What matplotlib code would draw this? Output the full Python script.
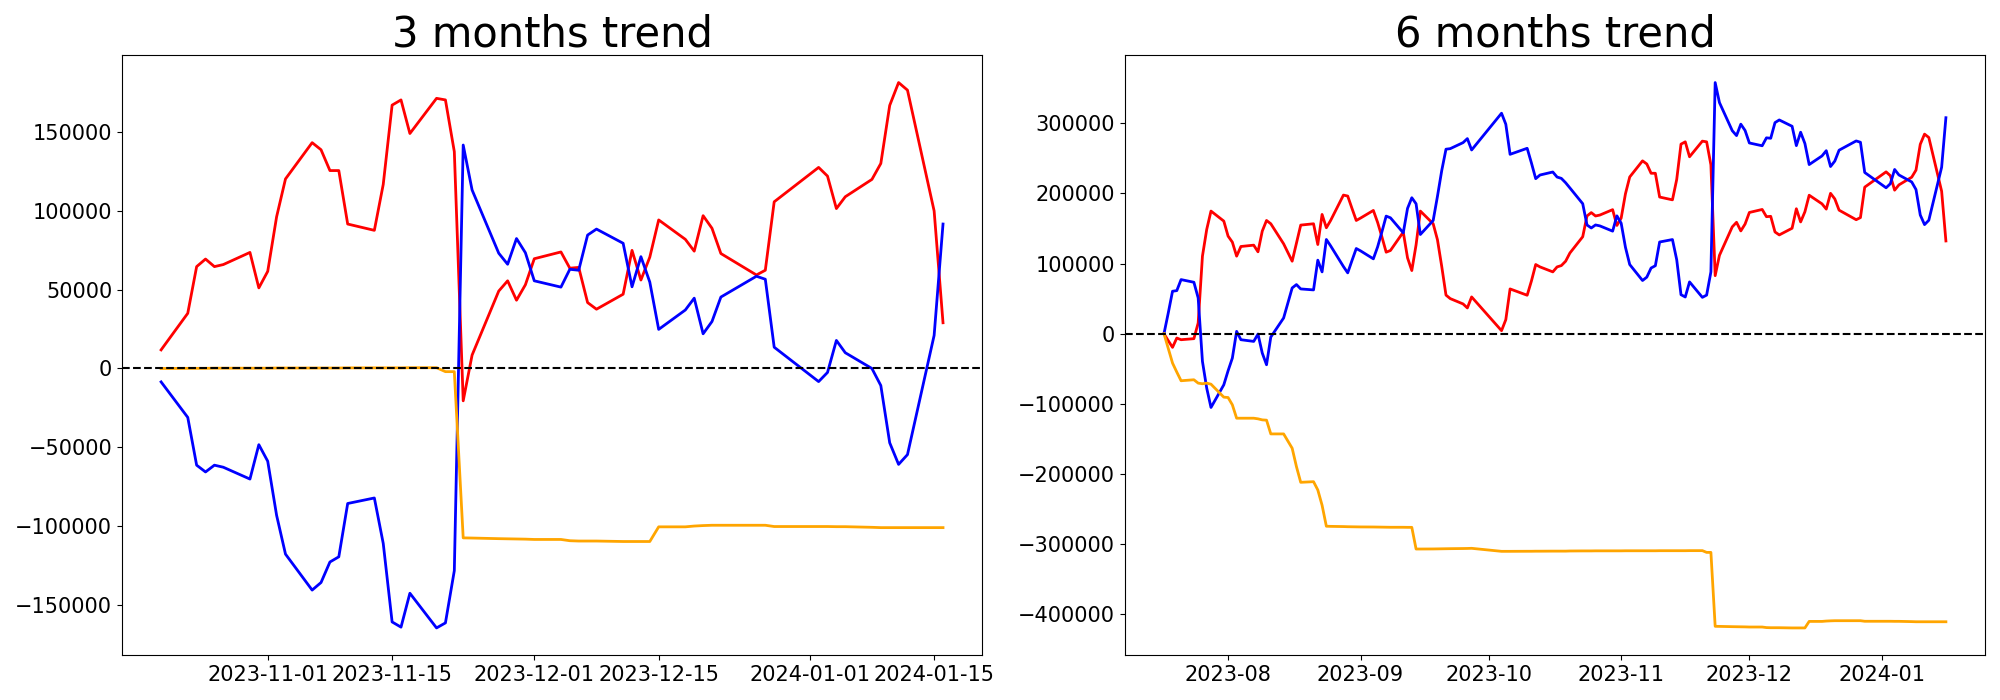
import matplotlib
matplotlib.use('Agg')
import matplotlib.pyplot as plt
import pandas as pd

# ---- trading calendar ----
start_6m = '2023-07-17'
start_3m = '2023-10-20'
end_day = '2024-01-16'
holidays = ['2023-08-15', '2023-09-28', '2023-09-29', '2023-10-02', '2023-10-03',
            '2023-10-09', '2023-12-25', '2023-12-29', '2024-01-01']

# ---- 3 months series (2023-10-20 .. 2024-01-16) ----
red_3m = [11800, 35000, 64600, 69400, 64600, 65900, 73600, 51100, 61600, 96200,
          120200, 143200, 138700, 125500, 125500, 91600, 87600, 116700, 167000, 170300,
          149000, 171300, 170300, 137500, -20500, 8500, 49100, 55600, 43300, 53100,
          69600, 73900, 63600, 64100, 41800, 37600, 47100, 74900, 56100, 70600,
          94200, 81900, 74400, 96900, 88900, 72900, 59300, 62300, 105700, 127500,
          122000, 101400, 108900, 119900, 130000, 166800, 181300, 176500, 99900, 29000]
blue_3m = [-8500, -31000, -61300, -65600, -61300, -62600, -70100, -48300, -58800, -93100,
           -117700, -140500, -135700, -122700, -119400, -85600, -82100, -110900, -160700, -164000,
           -142500, -164500, -161300, -128200, 141700, 113200, 73100, 66100, 82400, 73400,
           55600, 51600, 62900, 62300, 84600, 88400, 79400, 51800, 70900, 54800,
           24800, 37100, 44600, 22000, 29800, 45300, 58500, 56600, 13500, -8300,
           -2500, 17800, 10000, 0, -10800, -47100, -60800, -54600, 21000, 91600]
orange_3m = [0, 100, 100, 100, 200, 200, 200, 200, 200, 300,
             300, 300, 300, 300, 300, 400, 400, 400, 400, 400,
             500, 500, -2000, -2000, -107400, -107500, -107900, -108000, -108100, -108200,
             -108400, -108400, -109200, -109400, -109400, -109400, -109700, -109700, -109700, -109700,
             -100400, -100400, -99900, -99600, -99400, -99400, -99400, -99400, -100200, -100200,
             -100200, -100300, -100300, -100700, -100900, -100900, -100900, -100900, -100900, -100900]

# ---- 6 months series (2023-07-17 .. 2024-01-16) ----
red_6m = [0, -10000, -19500, -6200, -8600, -7100, 15200, 110500, 148600, 174800,
          160500, 139100, 130500, 110500, 124300, 126200, 116700, 146200, 161400, 156700,
          128100, 103300, 129000, 154800, 156700, 127100, 170000, 151000, 161400, 197600,
          196200, 178600, 161400, 164800, 175700, 158600, 138100, 116200, 118600, 144800,
          108100, 90000, 126700, 174800, 156700, 134000, 96000, 55000, 50000, 42400,
          36700, 52400, 4300, 20000, 63800, 54800, 75200, 98600, 95200, 88100,
          95200, 97100, 103300,
          115000, 138200, 167800, 172600, 167800, 169100, 176800, 154300, 164800, 199400,
          223400, 246400, 241900, 228700, 228700, 194800, 190800, 219900, 270200, 273500,
          252200, 274500, 273500, 240700, 82700, 111700, 152300, 158800, 146500, 156300,
          172800, 177100, 166800, 167300, 145000, 140800, 150300, 178100, 159300, 173800,
          197400, 185100, 177600, 200100, 192100, 176100, 162500, 165500, 208900, 230700,
          225200, 204600, 212100, 223100, 233200, 270000, 284500, 279700, 203100, 132200]
blue_6m = [0, 29500, 60500, 61400, 77100, 73300, 51000, -39500, -77600, -105200,
           -72900, -52900, -34800, 3300, -8600, -11000, -500, -27600, -44300, -4800,
           22400, 65200, 70000, 63800, 62400, 104800, 88100, 134300, 125200, 95700,
           86700, 104300, 121400, 118100, 106700, 123800, 145200, 167600, 165200, 143800,
           178600, 193800, 185200, 141400, 161400, 195700, 232400, 263000, 263800, 272400,
           278100, 261900, 314300, 298600, 255700, 264300, 243300, 221000, 226200, 230500,
           223300, 221400, 215200,
           207800, 185300, 155000, 150700, 155000, 153700, 146200, 168000, 157500, 123200,
           98600, 75800, 80600, 93600, 96900, 130700, 134200, 105400, 55600, 52300,
           73800, 51800, 55000, 88100, 358000, 329500, 289400, 282400, 298700, 289700,
           271900, 267900, 279200, 278600, 300900, 304700, 295700, 268100, 287200, 271100,
           241100, 253400, 260900, 238300, 246100, 261600, 274800, 272900, 229800, 208000,
           213800, 234100, 226300, 216300, 205500, 169200, 155500, 161700, 237300, 307900]
orange_6m = [0, -21000, -41900, -54800, -67100, -65700, -70500, -71400, -70500, -72000,
             -90500, -91000, -101400, -120500, -120500, -120500, -121400, -122900, -123300, -142900,
             -142900, -163300, -189500, -211900, -211000, -222800, -244600, -274500, -274700, -275000,
             -275200, -275300, -275400, -275500, -275600, -275700, -275800, -275900, -276000, -276000,
             -276100, -276100, -307000, -307000, -306900, -306800, -306700, -306600, -306500, -306300,
             -306200, -306000, -310300, -310300, -310300, -310200, -310200, -310100, -310100, -310000,
             -310000, -310000, -310000,
             -309800, -309700, -309700, -309700, -309600, -309600, -309600, -309600, -309600, -309500,
             -309500, -309500, -309500, -309500, -309500, -309400, -309400, -309400, -309400, -309400,
             -309300, -309300, -311800, -311800, -417200, -417300, -417700, -417800, -417900, -418000,
             -418200, -418200, -419000, -419200, -419200, -419200, -419500, -419500, -419500, -419500,
             -410200, -410200, -409700, -409400, -409200, -409200, -409200, -409200, -410000, -410000,
             -410000, -410100, -410100, -410500, -410700, -410700, -410700, -410700, -410700, -410700]

titles = ['3 months trend', '6 months trend']

all_days = pd.bdate_range(start_6m, end_day)
dates_6m = all_days[~all_days.isin(pd.to_datetime(holidays))]
dates_3m = dates_6m[dates_6m >= pd.Timestamp(start_3m)]
dates_6m = list(dates_6m.to_pydatetime())
dates_3m = list(dates_3m.to_pydatetime())

fig, axes = plt.subplots(1, 2, figsize=(20, 7), dpi=100)
panels = [(dates_3m, red_3m, blue_3m, orange_3m), (dates_6m, red_6m, blue_6m, orange_6m)]
for ax, title, (d, r, b, o) in zip(axes, titles, panels):
    ax.plot(d, r, color='red', lw=2)
    ax.plot(d, b, color='blue', lw=2)
    ax.plot(d, o, color='orange', lw=2)
    ax.axhline(0, color='black', linestyle='--', lw=1.5)
    ax.set_title(title, fontsize=30)
    ax.tick_params(labelsize=15)

fig.subplots_adjust(left=0.061, right=0.9925, bottom=0.064, top=0.921, wspace=0.166)
fig.savefig('out.png', dpi=100)
